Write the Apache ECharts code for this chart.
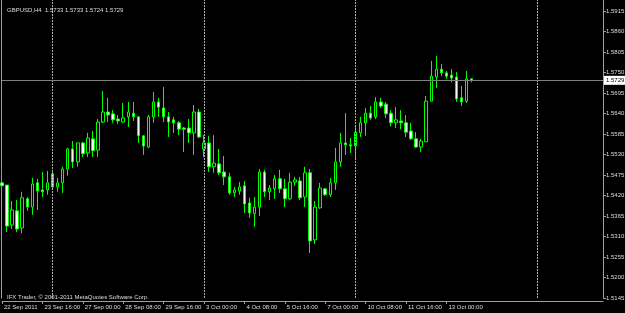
<!DOCTYPE html>
<html>
<head>
<meta charset="utf-8">
<script src="https://cdn.jsdelivr.net/npm/echarts@6/dist/echarts.min.js"></script>
<style>
html,body{margin:0;padding:0;background:#000;}
#c{width:625px;height:313px;}
</style>
</head>
<body>
<div id="c"></div>
<script>
// ---- data ----
const symbol = 'GBPUSD';
const period = 'H4';
const firstBarTime = '2011-09-22T08:00:00Z';
const totalSlots = 120; // bars incl. empty future area
// [open, close, low, high]
const ohlc = [
[1.5454,1.5446,1.5435,1.5497],
[1.5448,1.5338,1.5322,1.5448],
[1.5341,1.5381,1.5330,1.5405],
[1.5379,1.5330,1.5322,1.5408],
[1.5333,1.5414,1.5319,1.5430],
[1.5411,1.5389,1.5379,1.5416],
[1.5389,1.5451,1.5368,1.5467],
[1.5454,1.5432,1.5381,1.5465],
[1.5435,1.5430,1.5416,1.5483],
[1.5435,1.5454,1.5422,1.5486],
[1.5478,1.5443,1.5438,1.5489],
[1.5443,1.5454,1.5430,1.5467],
[1.5454,1.5491,1.5427,1.5497],
[1.5491,1.5545,1.5473,1.5548],
[1.5545,1.5510,1.5494,1.5566],
[1.5510,1.5561,1.5497,1.5561],
[1.5561,1.5532,1.5523,1.5564],
[1.5534,1.5574,1.5523,1.5588],
[1.5572,1.5540,1.5523,1.5593],
[1.5542,1.5617,1.5523,1.5625],
[1.5617,1.5644,1.5615,1.5700],
[1.5644,1.5636,1.5617,1.5682],
[1.5639,1.5623,1.5615,1.5649],
[1.5625,1.5620,1.5612,1.5636],
[1.5617,1.5628,1.5615,1.5668],
[1.5631,1.5644,1.5604,1.5671],
[1.5641,1.5631,1.5620,1.5671],
[1.5631,1.5580,1.5561,1.5633],
[1.5580,1.5553,1.5529,1.5582],
[1.5550,1.5631,1.5548,1.5636],
[1.5631,1.5671,1.5615,1.5698],
[1.5671,1.5657,1.5631,1.5682],
[1.5655,1.5631,1.5617,1.5711],
[1.5631,1.5617,1.5577,1.5644],
[1.5623,1.5615,1.5588,1.5631],
[1.5615,1.5598,1.5582,1.5620],
[1.5601,1.5598,1.5537,1.5604],
[1.5601,1.5588,1.5561,1.5625],
[1.5588,1.5644,1.5529,1.5663],
[1.5644,1.5577,1.5574,1.5652],
[1.5545,1.5561,1.5523,1.5582],
[1.5561,1.5497,1.5483,1.5580],
[1.5497,1.5507,1.5481,1.5582],
[1.5505,1.5481,1.5475,1.5545],
[1.5483,1.5470,1.5448,1.5526],
[1.5470,1.5427,1.5422,1.5481],
[1.5427,1.5435,1.5416,1.5443],
[1.5432,1.5443,1.5422,1.5456],
[1.5446,1.5397,1.5373,1.5459],
[1.5400,1.5373,1.5360,1.5414],
[1.5371,1.5389,1.5336,1.5416],
[1.5389,1.5483,1.5365,1.5491],
[1.5483,1.5430,1.5416,1.5489],
[1.5430,1.5440,1.5408,1.5448],
[1.5438,1.5465,1.5411,1.5475],
[1.5465,1.5438,1.5427,1.5489],
[1.5438,1.5411,1.5389,1.5465],
[1.5411,1.5456,1.5408,1.5481],
[1.5456,1.5462,1.5446,1.5470],
[1.5459,1.5414,1.5408,1.5470],
[1.5416,1.5481,1.5389,1.5497],
[1.5481,1.5298,1.5266,1.5491],
[1.5301,1.5389,1.5290,1.5405],
[1.5387,1.5440,1.5384,1.5454],
[1.5438,1.5422,1.5419,1.5440],
[1.5422,1.5454,1.5416,1.5467],
[1.5454,1.5510,1.5435,1.5548],
[1.5510,1.5561,1.5497,1.5588],
[1.5561,1.5556,1.5529,1.5641],
[1.5556,1.5553,1.5534,1.5574],
[1.5553,1.5590,1.5521,1.5604],
[1.5588,1.5615,1.5577,1.5631],
[1.5615,1.5641,1.5580,1.5655],
[1.5641,1.5628,1.5623,1.5660],
[1.5631,1.5671,1.5625,1.5684],
[1.5671,1.5660,1.5655,1.5682],
[1.5665,1.5639,1.5628,1.5671],
[1.5641,1.5615,1.5606,1.5649],
[1.5615,1.5623,1.5601,1.5657],
[1.5620,1.5615,1.5598,1.5649],
[1.5615,1.5590,1.5577,1.5636],
[1.5593,1.5572,1.5569,1.5615],
[1.5572,1.5550,1.5548,1.5590],
[1.5550,1.5566,1.5537,1.5572],
[1.5564,1.5673,1.5564,1.5687],
[1.5673,1.5740,1.5673,1.5781],
[1.5738,1.5759,1.5708,1.5794],
[1.5759,1.5749,1.5740,1.5773],
[1.5749,1.5740,1.5733,1.5754],
[1.5743,1.5735,1.5724,1.5759],
[1.5738,1.5679,1.5671,1.5751],
[1.5682,1.5671,1.5660,1.5714],
[1.5673,1.5733,1.5668,1.5754],
[1.5733,1.5729,1.5724,1.5733]
];
const priceMin = 1.5145;
const priceMax = 1.5970;
const priceStep = 0.0055;
const separatorBars = [10, 40, 70, 106];
const copyright = 'IFX Trader, \u00a9 2001-2011 MetaQuotes Software Corp.';

// ---- category labels (H4 bars, weekends skipped) ----
const MON = ['Jan','Feb','Mar','Apr','May','Jun','Jul','Aug','Sep','Oct','Nov','Dec'];
const categories = [];
let t = new Date(firstBarTime).getTime();
while (categories.length < totalSlots) {
  const d = new Date(t);
  const wd = d.getUTCDay();
  if (wd !== 0 && wd !== 6) {
    const hh = String(d.getUTCHours()).padStart(2,'0');
    categories.push(d.getUTCDate() + ' ' + MON[d.getUTCMonth()] + ' ' + hh + ':00');
  }
  t += 4*3600*1000;
}
const firstLabel = '22 Sep 2011';

const last = ohlc[ohlc.length-1];
const header = symbol + ',' + period + '  ' + [last[0], last[3], last[2], last[1]].map(v=>v.toFixed(4)).join(' ');
const bid = last[1];

const FONT = 'Liberation Sans';
const TXT = '#dedede';
const AX = '#a0a0a0';
const labelFn = function(index){ return index % 8 === 0 && index < ohlc.length; };

const chart = echarts.init(document.getElementById('c'), null, {renderer:'canvas'});
chart.setOption({
  backgroundColor: '#000000',
  animation: false,
  title: [
    {text: header, left: 2, top: 2, textStyle:{color:TXT, fontSize:6, fontWeight:'normal', fontFamily:FONT}},
    {text: copyright, left: 2, top: 289, textStyle:{color:TXT, fontSize:6, fontWeight:'normal', fontFamily:FONT}}
  ],
  grid: {left: 2, right: 22, top: -9.5, bottom: 15, containLabel: false, outerBoundsMode: 'none'},
  xAxis: {
    type: 'category',
    data: categories,
    boundaryGap: false,
    offset: 3,
    axisLine: {lineStyle:{color:AX, width:1}},
    axisTick: {show:true, length:3, interval: labelFn, lineStyle:{color:AX}},
    axisLabel: {
      interval: labelFn, color: TXT, fontSize: 6, fontFamily: FONT, align: 'left', margin: 3,
      padding: [0,0,0,2],
      formatter: function(v, i){ return i === 0 ? firstLabel : v; }
    },
    splitLine: {show:false}
  },
  yAxis: [{
    type: 'value', position: 'right', min: priceMin, max: priceMax, interval: priceStep, scale: true,
    axisLine: {show:true, lineStyle:{color:AX, width:1}},
    axisTick: {show:true, length:3, lineStyle:{color:AX}},
    axisLabel: {color: TXT, fontSize: 6, fontFamily: FONT, margin: 3, formatter: v => v.toFixed(4)},
    splitLine: {show:false}
  },{
    type: 'value', position: 'left', min: priceMin, max: priceMax, offset: 1,
    axisLine: {show:true, lineStyle:{color:AX, width:1}},
    axisTick: {show:false}, axisLabel: {show:false}, splitLine: {show:false}
  }],
  series: [
    {
      type: 'line', data: [], z: 1, silent: true,
      markLine: {
        silent: true, symbol: ['none','none'], animation: false, precision: 4,
        data: separatorBars.map(i => ({xAxis: categories[i], lineStyle:{color:'#b4b4b4', width:1, type:[2,1]}, label:{show:false}})).concat([
          {yAxis: bid, lineStyle:{color:'#808080', width:1, type:'solid'},
           label:{show:true, position:'end', distance:1, formatter: bid.toFixed(4), color:'#000', backgroundColor:'#ffffff',
                  fontSize:6, fontFamily:FONT, padding:[2,2,1,2]}}
        ])
      }
    },
    {
      type: 'candlestick', data: ohlc, z: 3, clip: false, barWidth: 3,
      itemStyle: {color:'#000000', color0:'#f4fff4', borderColor:'#00ff00', borderColor0:'#00ff00', borderWidth:1}
    }
  ]
});
</script>
</body>
</html>
